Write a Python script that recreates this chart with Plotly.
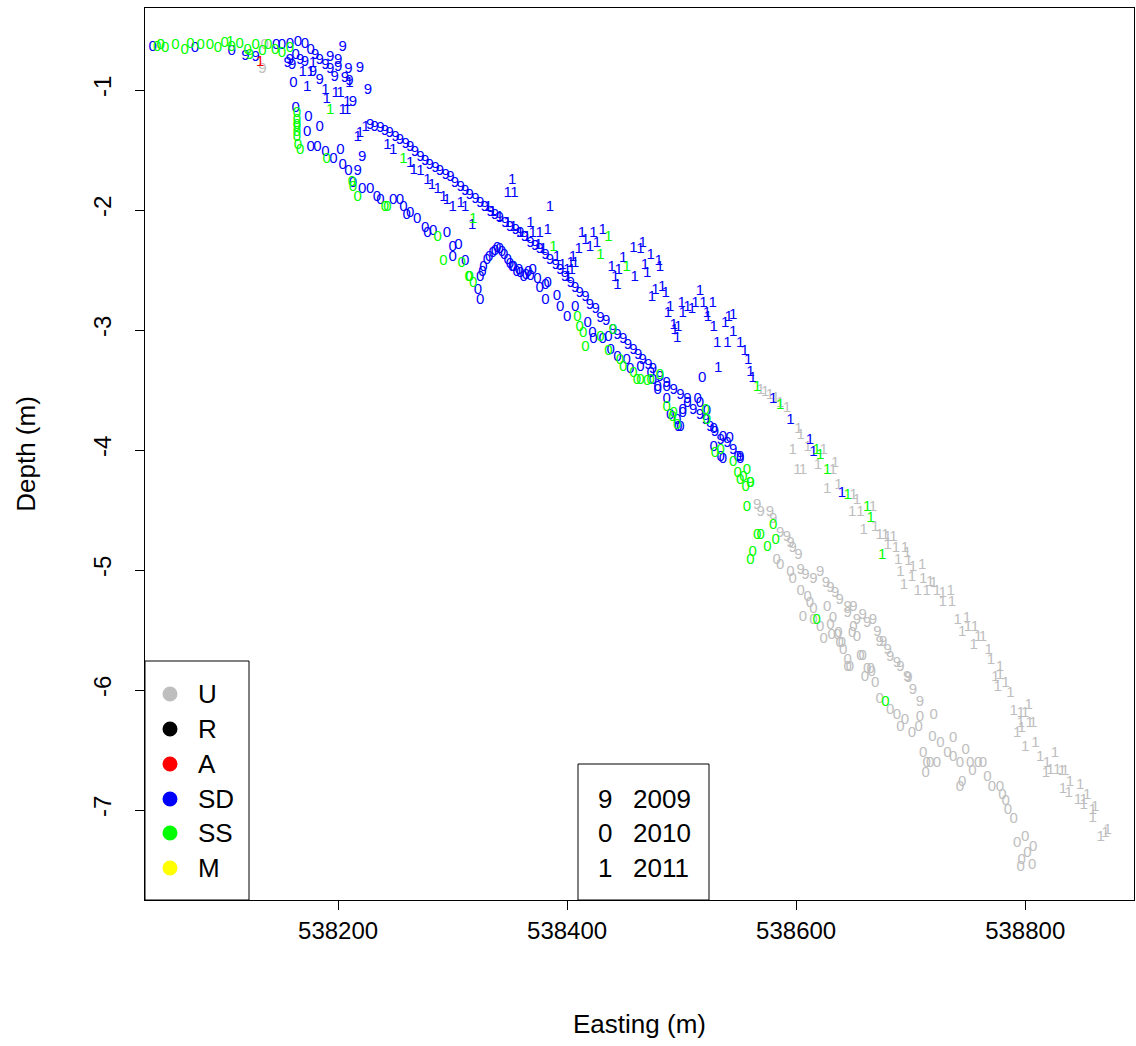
import plotly.graph_objects as go

# ---- data: (Easting, Depth) per category / year ----
# U = grey, SD = blue, SS = green, A = red ; digit = last digit of year
u09 = [(538134, -0.83), (538566, -4.46), (538569, -4.52), (538577, -4.52), (538580, -4.58), (538586, -4.69),
       (538595, -4.78), (538602, -4.88), (538604, -5.00), (538615, -5.08), (538621, -5.02), (538630, -5.15),
       (538638, -5.25), (538645, -5.31), (538650, -5.31), (538645, -5.36), (538653, -5.42), (538662, -5.44),
       (538667, -5.42), (538671, -5.52), (538673, -5.60), (538676, -5.60), (538680, -5.67), (538682, -5.73),
       (538688, -5.78), (538691, -5.81), (538697, -5.89), (538698, -5.90), (538702, -6.00), (538708, -6.10),
       (538592, -4.73), (538597, -4.82), (538608, -5.04), (538626, -5.11), (538634, -5.19), (538658, -5.38)]

u10 = [(538045, -0.63), (538136, -0.63), (538583, -4.92), (538586, -4.96), (538595, -5.02), (538597, -5.08),
       (538604, -5.18), (538610, -5.23), (538612, -5.28), (538615, -5.33), (538627, -5.31), (538632, -5.40),
       (538630, -5.46), (538636, -5.54), (538638, -5.61), (538641, -5.67), (538645, -5.75), (538647, -5.81),
       (538650, -5.48), (538653, -5.56), (538658, -5.72), (538662, -5.83), (538666, -5.85), (538669, -5.94),
       (538606, -5.39), (538615, -5.42), (538621, -5.48), (538624, -5.58), (538631, -5.54), (538637, -5.53),
       (538640, -5.61), (538645, -5.81), (538649, -5.53), (538656, -5.72), (538660, -5.89), (538665, -5.83),
       (538673, -6.08), (538682, -6.17), (538688, -6.21), (538691, -6.31), (538695, -6.25), (538701, -6.36),
       (538707, -6.31), (538708, -6.23), (538720, -6.21), (538711, -6.53), (538714, -6.61), (538717, -6.61),
       (538723, -6.61), (538713, -6.69), (538719, -6.39), (538726, -6.44), (538732, -6.53), (538737, -6.40),
       (538737, -6.56), (538743, -6.61), (538748, -6.50), (538752, -6.61), (538754, -6.68), (538759, -6.61),
       (538763, -6.61), (538767, -6.73), (538771, -6.81), (538778, -6.81), (538780, -6.88), (538783, -6.93),
       (538785, -7.00), (538790, -7.08), (538745, -6.77), (538743, -6.81), (538793, -7.28), (538800, -7.23),
       (538807, -7.31), (538802, -7.36), (538797, -7.42), (538796, -7.48), (538806, -7.46)]

u11 = [(538569, -3.50), (538573, -3.52), (538577, -3.54), (538582, -3.57), (538586, -3.61), (538592, -3.65),
       (538602, -3.83), (538604, -3.88), (538597, -4.00), (538610, -3.98), (538624, -4.00), (538601, -4.17),
       (538606, -4.17), (538619, -4.13), (538632, -4.17), (538634, -4.11), (538627, -4.33), (538637, -4.29),
       (538650, -4.38), (538653, -4.42), (538649, -4.52), (538656, -4.52), (538667, -4.48), (538659, -4.67),
       (538669, -4.64), (538673, -4.71), (538678, -4.71), (538680, -4.73), (538685, -4.73), (538680, -4.79),
       (538687, -4.82), (538695, -4.82), (538689, -4.92), (538697, -4.86), (538698, -4.93), (538702, -4.98),
       (538710, -4.96), (538691, -5.02), (538701, -5.06), (538711, -5.08), (538717, -5.10), (538694, -5.13),
       (538706, -5.18), (538714, -5.18), (538720, -5.11), (538723, -5.18), (538728, -5.19), (538735, -5.18),
       (538728, -5.27), (538736, -5.27), (538741, -5.42), (538745, -5.52), (538749, -5.40), (538750, -5.48),
       (538756, -5.48), (538755, -5.63), (538759, -5.56), (538763, -5.56), (538768, -5.67), (538770, -5.75),
       (538778, -5.81), (538774, -5.89), (538778, -5.88), (538783, -5.94), (538776, -5.98), (538787, -6.03),
       (538790, -6.18), (538796, -6.19), (538803, -6.13), (538800, -6.19), (538804, -6.28), (538796, -6.28),
       (538807, -6.28), (538793, -6.36), (538797, -6.32), (538800, -6.48), (538809, -6.44), (538813, -6.56),
       (538819, -6.61), (538822, -6.67), (538826, -6.53), (538828, -6.67), (538832, -6.68), (538835, -6.68),
       (538818, -6.69), (538833, -6.83), (538839, -6.77), (538848, -6.79), (538838, -6.86), (538846, -6.92),
       (538851, -6.92), (538854, -6.88), (538851, -6.96), (538859, -7.00), (538861, -6.98), (538859, -7.07),
       (538866, -7.23), (538870, -7.19), (538872, -7.17)]

sd09 = [(538119, -0.72), (538128, -0.73), (538156, -0.78), (538158, -0.75), (538167, -0.75), (538171, -0.77),
        (538184, -0.75), (538180, -0.71), (538189, -0.79), (538193, -0.83), (538197, -0.89), (538206, -0.90),
        (538210, -0.93), (538219, -0.82), (538200, -0.75), (538204, -0.64), (538193, -0.73), (538200, -0.81),
        (538209, -0.83), (538226, -1.00), (538213, -1.10), (538221, -1.56), (538217, -1.68), (538184, -0.92),
        (538178, -0.85), (538160, -0.79),
        (538228, -1.29), (538232, -1.31), (538237, -1.32), (538241, -1.34), (538245, -1.36), (538250, -1.39),
        (538254, -1.42), (538259, -1.45), (538263, -1.48), (538267, -1.52), (538272, -1.56), (538276, -1.59),
        (538280, -1.63), (538285, -1.65), (538289, -1.68), (538294, -1.71), (538298, -1.73), (538302, -1.78),
        (538307, -1.81), (538311, -1.84), (538315, -1.88), (538320, -1.91), (538324, -1.94), (538328, -1.98),
        (538333, -2.02), (538337, -2.04), (538341, -2.07), (538346, -2.11), (538350, -2.14), (538355, -2.17),
        (538359, -2.19), (538363, -2.23), (538368, -2.28), (538372, -2.30), (538376, -2.33), (538381, -2.38),
        (538385, -2.42), (538390, -2.46), (538394, -2.50), (538398, -2.56), (538403, -2.61), (538407, -2.65),
        (538411, -2.69), (538416, -2.73), (538420, -2.79), (538425, -2.83), (538429, -2.90), (538434, -2.93),
        (538440, -3.00), (538444, -3.04), (538449, -3.08), (538453, -3.13), (538458, -3.17), (538462, -3.21),
        (538466, -3.25), (538471, -3.29), (538475, -3.33), (538481, -3.39), (538487, -3.44), (538493, -3.50),
        (538499, -3.54), (538505, -3.58), (538510, -3.67), (538516, -3.71), (538521, -3.75), (538525, -3.81),
        (538529, -3.85), (538534, -3.92), (538540, -3.94), (538545, -4.00), (538551, -4.06)]

sd10 = [(538038, -0.64), (538075, -0.65), (538107, -0.68), (538146, -0.63), (538151, -0.63), (538158, -0.62),
        (538165, -0.60), (538171, -0.62), (538163, -0.71), (538176, -0.67),
        (538161, -0.94), (538163, -1.15), (538174, -1.23), (538184, -1.31), (538173, -1.35), (538176, -1.48),
        (538182, -1.48), (538189, -1.52), (538202, -1.50), (538196, -1.58), (538204, -1.63), (538209, -1.68),
        (538213, -1.78), (538221, -1.83), (538228, -1.83), (538234, -1.89), (538237, -1.92), (538248, -1.92),
        (538254, -1.92), (538257, -1.98), (538260, -2.04), (538263, -2.03), (538269, -2.08), (538276, -2.15),
        (538278, -2.19), (538283, -2.18), (538295, -2.19), (538300, -2.31), (538305, -2.29), (538300, -2.39),
        (538311, -2.43), (538322, -2.67), (538324, -2.75),
        (538324, -2.56), (538327, -2.48), (538330, -2.42), (538335, -2.36), (538339, -2.32), (538343, -2.35),
        (538348, -2.42), (538352, -2.48), (538356, -2.52), (538362, -2.56), (538366, -2.52), (538370, -2.50),
        (538374, -2.58), (538376, -2.65), (538381, -2.75), (538383, -2.61), (538359, -2.53), (538353, -2.48),
        (538326, -2.52), (538332, -2.39), (538337, -2.34), (538341, -2.33), (538345, -2.38), (538350, -2.45),
        (538358, -2.50), (538364, -2.54), (538368, -2.55),
        (538381, -2.63), (538391, -2.72), (538394, -2.81), (538400, -2.89), (538407, -2.81), (538418, -2.94),
        (538422, -3.03), (538423, -3.08), (538431, -3.08), (538438, -3.17), (538436, -3.06), (538444, -3.23),
        (538452, -3.25), (538455, -3.33), (538475, -3.42), (538479, -3.48), (538479, -3.50), (538487, -3.48),
        (538487, -3.58), (538490, -3.71), (538496, -3.75), (538499, -3.81), (538501, -3.67), (538505, -3.61),
        (538514, -3.58), (538516, -3.61), (538518, -3.40), (538522, -3.68), (538528, -3.83), (538536, -3.89),
        (538542, -3.90), (538528, -3.98), (538534, -4.06), (538536, -4.08), (538549, -4.06), (538551, -4.08),
        (538501, -3.69), (538497, -3.81), (538464, -3.31), (538473, -3.36)]

sd11 = [(538178, -0.78), (538169, -0.85), (538176, -0.85), (538173, -0.98), (538189, -1.00), (538190, -1.08),
        (538198, -1.03), (538202, -1.03), (538204, -1.17), (538208, -1.17), (538208, -1.10), (538210, -0.94),
        (538217, -1.39), (538219, -1.36), (538224, -1.31), (538243, -1.46), (538248, -1.50), (538263, -1.61),
        (538266, -1.67), (538272, -1.68), (538278, -1.75), (538282, -1.79), (538287, -1.83), (538292, -1.89),
        (538295, -1.92), (538300, -1.98), (538307, -1.94), (538311, -1.98), (538352, -1.75), (538348, -1.86),
        (538354, -1.86), (538317, -2.13), (538331, -1.98), (538335, -2.02), (538341, -2.06), (538348, -2.11),
        (538353, -2.14), (538359, -2.19), (538368, -2.11), (538370, -2.19), (538376, -2.19), (538383, -2.17),
        (538385, -1.98), (538365, -2.23), (538375, -2.29), (538379, -2.33), (538391, -2.39), (538396, -2.46),
        (538400, -2.50), (538403, -2.44), (538405, -2.39), (538410, -2.33), (538401, -2.56), (538404, -2.50),
        (538407, -2.44),
        (538413, -2.19), (538416, -2.25), (538420, -2.31), (538423, -2.19), (538426, -2.28), (538431, -2.17),
        (538439, -2.48), (538442, -2.56), (538445, -2.50), (538449, -2.40), (538444, -2.63), (538459, -2.56),
        (538458, -2.32), (538464, -2.33), (538466, -2.28), (538470, -2.53), (538468, -2.46), (538473, -2.38),
        (538480, -2.43), (538481, -2.48), (538474, -2.73), (538477, -2.67), (538483, -2.64), (538486, -2.69),
        (538490, -2.81), (538488, -2.86), (538494, -3.00), (538493, -2.96), (538497, -2.98), (538496, -3.07),
        (538500, -2.78), (538501, -2.86), (538505, -2.81), (538509, -2.83), (538512, -2.78), (538516, -2.68),
        (538519, -2.78), (538522, -2.86), (538527, -2.78), (538523, -2.89), (538528, -2.98), (538531, -3.11),
        (538540, -3.11), (538545, -2.88), (538541, -2.89), (538538, -2.94), (538545, -3.02), (538551, -3.11),
        (538555, -3.18), (538558, -3.25), (538560, -3.35), (538562, -3.40), (538532, -3.32), (538580, -3.58),
        (538595, -3.75), (538612, -3.92), (538615, -4.02), (538640, -4.36)]

ss09 = [(538164, -1.31), (538123, -0.71), (538560, -4.28)]

ss10 = [(538042, -0.64), (538049, -0.65), (538058, -0.63), (538066, -0.67), (538071, -0.62), (538080, -0.63),
        (538088, -0.63), (538095, -0.65), (538101, -0.61), (538107, -0.64), (538114, -0.62), (538121, -0.67),
        (538128, -0.63), (538134, -0.68), (538139, -0.63), (538145, -0.67), (538151, -0.69), (538158, -0.65),
        (538045, -0.63),
        (538164, -1.19), (538164, -1.25), (538164, -1.29), (538164, -1.35), (538164, -1.39), (538165, -1.46),
        (538167, -1.50),
        (538190, -1.58), (538213, -1.81), (538217, -1.89), (538212, -1.77), (538241, -1.98), (538243, -1.98),
        (538287, -2.23), (538292, -2.43), (538308, -2.44), (538314, -2.56), (538318, -2.61), (538315, -2.56),
        (538409, -2.89), (538411, -2.98), (538414, -3.03), (538416, -3.14), (538440, -3.00), (538436, -3.18),
        (538429, -3.06), (538446, -3.25), (538449, -3.31), (538458, -3.36), (538461, -3.42), (538464, -3.42),
        (538470, -3.43), (538481, -3.38), (538473, -3.42), (538487, -3.64), (538492, -3.73), (538496, -3.79),
        (538493, -3.69), (538521, -3.67), (538522, -3.75), (538529, -4.03), (538534, -4.00), (538545, -4.10),
        (538549, -4.19), (538554, -4.23), (538557, -4.17), (538551, -4.25), (538556, -4.31), (538560, -4.28),
        (538557, -4.48), (538566, -4.71), (538569, -4.71), (538575, -4.81), (538582, -4.75), (538580, -4.63),
        (538562, -4.85), (538560, -4.92),
        (538618, -5.42), (538678, -6.10)]

ss11 = [(538106, -0.60), (538193, -1.17), (538257, -1.58), (538318, -2.08), (538388, -2.31), (538436, -2.23),
        (538429, -2.38), (538452, -2.48), (538586, -3.63), (538618, -4.00), (538621, -4.04), (538627, -4.17),
        (538645, -4.38), (538662, -4.48), (538665, -4.57), (538675, -4.88), (538566, -3.48)]

a11 = [(538132, -0.77)]

categories = ['U', 'R', 'A', 'SD', 'SS', 'M']
category_colors = ['#BEBEBE', '#000000', '#FF0000', '#0000FF', '#00FF00', '#FFFF00']
year_digits = ['9', '0', '1']
year_labels = ['2009', '2010', '2011']

x_ticks = [538200, 538400, 538600, 538800]
y_ticks = [-1, -2, -3, -4, -5, -6, -7]

# plot area in pixels (figure 1136 x 1046)
PL, PR, PT, PB = 145, 1134, 8, 900


def px(x):
    return (x - PL) / (PR - PL)


def py(y):
    return (PB - y) / (PB - PT)


fig = go.Figure()

series = [
    (u09, '9', '#BEBEBE'), (u10, '0', '#BEBEBE'), (u11, '1', '#BEBEBE'),
    (sd09, '9', '#0000FF'), (sd10, '0', '#0000FF'), (sd11, '1', '#0000FF'),
    (ss09, '9', '#00FF00'), (ss10, '0', '#00FF00'), (ss11, '1', '#00FF00'),
    (a11, '1', '#FF0000'),
]

for pts, digit, color in series:
    fig.add_trace(go.Scatter(
        x=[p[0] for p in pts],
        y=[p[1] for p in pts],
        mode='text',
        text=[digit] * len(pts),
        textposition='middle center',
        textfont=dict(family='Arial, Liberation Sans', size=15, color=color),
        hoverinfo='skip',
        showlegend=False
    ))

shapes = []
annotations = []

# category legend (bottom left)
shapes.append(dict(type='rect', xref='paper', yref='paper',
                   x0=px(145), x1=px(249), y0=py(900), y1=py(661),
                   line=dict(color='black', width=1), fillcolor='white', layer='above'))
row_y = [694, 729, 764, 799, 833, 868]
for name, col, ry in zip(categories, category_colors, row_y):
    shapes.append(dict(type='circle', xref='paper', yref='paper',
                       xsizemode='pixel', ysizemode='pixel',
                       xanchor=px(170), yanchor=py(ry),
                       x0=-7.5, x1=7.5, y0=-7.5, y1=7.5,
                       fillcolor=col, line=dict(width=0), layer='above'))
    annotations.append(dict(xref='paper', yref='paper', x=px(196), y=py(ry),
                            text=name, showarrow=False, xanchor='left', yanchor='middle',
                            font=dict(size=26, color='black')))

# year legend (bottom centre)
shapes.append(dict(type='rect', xref='paper', yref='paper',
                   x0=px(578), x1=px(709), y0=py(900), y1=py(764),
                   line=dict(color='black', width=1), fillcolor='white', layer='above'))
for dg, lab, ry in zip(year_digits, year_labels, row_y[3:]):
    annotations.append(dict(xref='paper', yref='paper', x=px(605), y=py(ry),
                            text=dg, showarrow=False, xanchor='center', yanchor='middle',
                            font=dict(size=26, color='black')))
    annotations.append(dict(xref='paper', yref='paper', x=px(631), y=py(ry),
                            text=lab, showarrow=False, xanchor='left', yanchor='middle',
                            font=dict(size=26, color='black')))

fig.update_layout(
    width=1136,
    height=1046,
    margin=dict(l=PL, r=1136 - PR, t=PT, b=1046 - PB),
    plot_bgcolor='white',
    paper_bgcolor='white',
    showlegend=False,
    font=dict(family='Arial, Liberation Sans', color='black'),
    shapes=shapes,
    annotations=annotations,
)

fig.update_xaxes(
    range=[538031.4, 538895],
    tickvals=x_ticks,
    ticktext=[str(v) for v in x_ticks],
    ticks='outside', ticklen=9, tickwidth=1, tickcolor='black',
    tickfont=dict(size=24),
    showline=True, linecolor='black', linewidth=1, mirror=True,
    showgrid=False, zeroline=False,
    title=dict(text='Easting (m)', font=dict(size=26), standoff=72),
)

fig.update_yaxes(
    range=[-7.75, -0.3167],
    tickvals=y_ticks,
    ticktext=[str(v) for v in y_ticks],
    tickangle=-90,
    ticks='outside', ticklen=9, tickwidth=1, tickcolor='black',
    tickfont=dict(size=24),
    ticklabelstandoff=14,
    showline=True, linecolor='black', linewidth=1, mirror=True,
    showgrid=False, zeroline=False,
    title=dict(text='Depth (m)', font=dict(size=26), standoff=46),
)

# page body has a default 8px margin; drop it so the figure fills the window
fig.write_html("out.html", config={'displayModeBar': False},
               post_script="document.body.style.margin='0px';")
